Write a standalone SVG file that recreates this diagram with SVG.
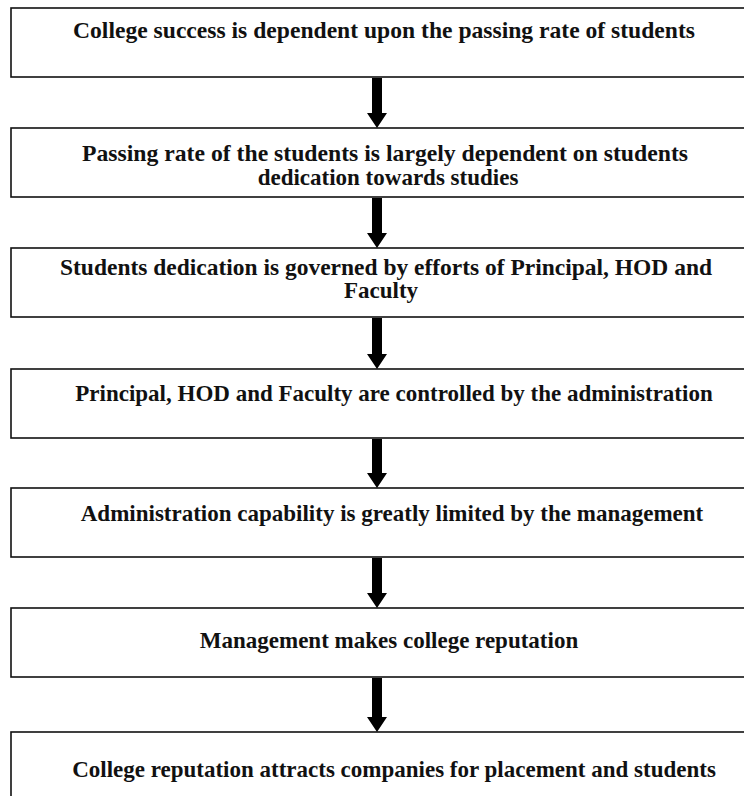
<svg xmlns="http://www.w3.org/2000/svg" width="744" height="796" viewBox="0 0 744 796">
<style>
.box{fill:#fff;stroke:#111;stroke-width:1.6}
text{font-family:'Liberation Serif',serif;font-weight:700;font-size:23px;fill:#111;text-anchor:middle}
.arr{fill:#000}
</style>
<rect width="744" height="796" fill="#fff"/>
<g id="n1"><rect class="box" x="11" y="8" width="760" height="69"/><text x="384" y="38" textLength="622" lengthAdjust="spacingAndGlyphs">College success is dependent upon the passing rate of students</text></g>
<g id="n2"><rect class="box" x="11" y="128" width="760" height="69"/><text x="385" y="161" textLength="606" lengthAdjust="spacingAndGlyphs">Passing rate of the students is largely dependent on students</text><text x="388" y="185">dedication towards studies</text></g>
<g id="n3"><rect class="box" x="11" y="248" width="760" height="69"/><text x="386" y="275" textLength="652" lengthAdjust="spacingAndGlyphs">Students dedication is governed by efforts of Principal, HOD and</text><text x="381" y="298">Faculty</text></g>
<g id="n4"><rect class="box" x="11" y="369" width="760" height="69"/><text x="394" y="401">Principal, HOD and Faculty are controlled by the administration</text></g>
<g id="n5"><rect class="box" x="11" y="488" width="760" height="69"/><text x="392" y="521">Administration capability is greatly limited by the management</text></g>
<g id="n6"><rect class="box" x="11" y="608" width="760" height="69"/><text x="389" y="648">Management makes college reputation</text></g>
<g id="n7"><rect class="box" x="11" y="732" width="760" height="80"/><text x="394" y="777">College reputation attracts companies for placement and students</text></g>
<g id="connectors">
<path class="arr" d="M372 78V113H367L377 128L387 113H382V78Z"/>
<path class="arr" d="M372 198V233H367L377 248L387 233H382V198Z"/>
<path class="arr" d="M372 318V354H367L377 369L387 354H382V318Z"/>
<path class="arr" d="M372 439V473H367L377 488L387 473H382V439Z"/>
<path class="arr" d="M372 558V593H367L377 608L387 593H382V558Z"/>
<path class="arr" d="M372 678V717H367L377 732L387 717H382V678Z"/>
</g>
</svg>
